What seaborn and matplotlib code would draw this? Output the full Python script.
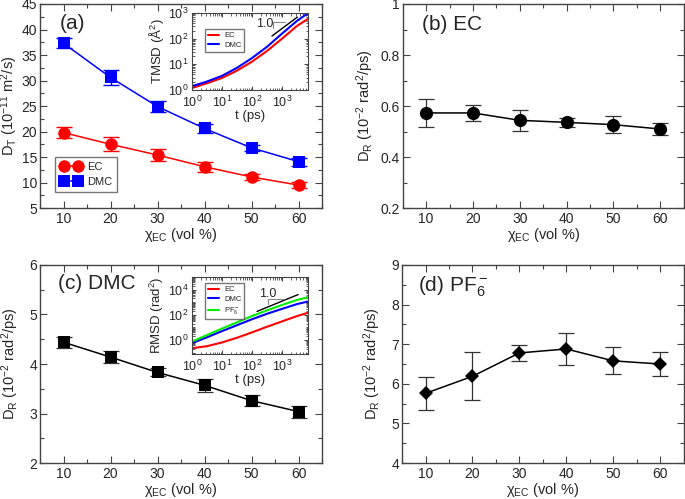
import matplotlib
matplotlib.use("Agg")
import matplotlib.pyplot as plt
import seaborn as sns
from matplotlib.ticker import MultipleLocator, LogLocator, NullFormatter

# ---- data ----
x_ec = [10, 20, 30, 40, 50, 60]

dt_ec = [19.8, 17.5, 15.4, 13.1, 11.1, 9.5]
dt_ec_err = [1.15, 1.4, 1.1, 1.0, 0.65, 0.65]
dt_dmc = [37.3, 30.6, 24.9, 20.6, 16.8, 14.1]
dt_dmc_err = [1.0, 1.4, 1.15, 0.85, 0.65, 0.8]

dr_ec = [0.573, 0.573, 0.544, 0.536, 0.527, 0.510]
dr_ec_err = [0.056, 0.032, 0.041, 0.017, 0.032, 0.022]

dr_dmc = [4.44, 4.14, 3.83, 3.57, 3.26, 3.04]
dr_dmc_err = [0.115, 0.12, 0.08, 0.13, 0.115, 0.12]

dr_pf6 = [5.76, 6.19, 6.78, 6.88, 6.58, 6.50]
dr_pf6_err = [0.42, 0.61, 0.2, 0.41, 0.34, 0.31]

# inset curves (log-log)
t_ps = [1, 3.16, 10, 31.6, 100, 316, 1000, 3162, 7000]
tmsd_ec = [1.17, 1.8, 2.9, 5.6, 12.6, 33, 100, 316, 575]
tmsd_dmc = [1.38, 2.1, 3.5, 7.2, 17.4, 48, 158, 500, 955]
rmsd_ec = [0.22, 0.32, 0.63, 1.5, 4.0, 11.2, 30, 79, 141]
rmsd_dmc = [0.55, 1.6, 5.0, 14.8, 44, 120, 295, 710, 1100]
rmsd_pf6 = [0.74, 2.4, 7.9, 25, 79, 224, 600, 1500, 2400]

# slope-1 guides in the insets
slope_a_t = [460, 3200]
slope_a_y = [126, 690]
slope_c_t = [147, 3400]
slope_c_y = [185, 4000]

sns.set_style("ticks")
plt.rcParams['font.family'] = ['Liberation Sans', 'DejaVu Sans']
plt.rcParams['mathtext.fontset'] = 'custom'
plt.rcParams['mathtext.rm'] = 'Liberation Sans'
plt.rcParams['mathtext.it'] = 'Liberation Sans:italic'
plt.rcParams['mathtext.default'] = 'regular'
plt.rcParams['axes.edgecolor'] = '#444444'
plt.rcParams['axes.linewidth'] = 1.0

fig = plt.figure(figsize=(6.85, 4.99), dpi=100)
ax_a = fig.add_axes([0.0584, 0.583, 0.4117, 0.409])
ax_b = fig.add_axes([0.588, 0.583, 0.410, 0.409])
ax_c = fig.add_axes([0.0584, 0.072, 0.4117, 0.397])
ax_d = fig.add_axes([0.587, 0.072, 0.411, 0.397])
ins_a = fig.add_axes([0.280, 0.820, 0.169, 0.154])
ins_c = fig.add_axes([0.280, 0.291, 0.169, 0.154])

xlab = r'$\chi_{EC}$ (vol %)'
drlab = r'$D_R$ (10$^{-2}$ rad$^2$/ps)'


def style_main(ax, ymin, ymax, major, minor):
    ax.set_xlim(5, 65)
    ax.set_ylim(ymin, ymax)
    ax.xaxis.set_major_locator(MultipleLocator(10))
    ax.xaxis.set_minor_locator(MultipleLocator(5))
    ax.yaxis.set_major_locator(MultipleLocator(major))
    ax.yaxis.set_minor_locator(MultipleLocator(minor))
    ax.tick_params(which='both', direction='in', top=True, right=True,
                   color='#444444', labelsize=10)
    ax.tick_params(axis='x', pad=2.5)
    ax.tick_params(axis='y', pad=2)
    ax.tick_params(which='major', length=5, width=0.8)
    ax.tick_params(which='minor', length=3, width=0.8)
    for s in ax.spines.values():
        s.set_visible(True)
    ax.set_xlabel(xlab, fontsize=10.5, labelpad=0)


def style_inset(ax, ymin, ymax, yticks, ylab):
    ax.set_xscale('log')
    ax.set_yscale('log')
    ax.set_xlim(1, 7000)
    ax.set_ylim(ymin, ymax)
    ax.set_xticks([1, 10, 100, 1000])
    ax.set_yticks(yticks)
    ax.xaxis.set_minor_locator(LogLocator(base=10, subs=range(1, 10), numticks=20))
    ax.yaxis.set_minor_locator(LogLocator(base=10, subs=range(1, 10), numticks=20))
    ax.xaxis.set_minor_formatter(NullFormatter())
    ax.yaxis.set_minor_formatter(NullFormatter())
    ax.tick_params(which='both', direction='in', top=True, right=True,
                   color='#444444', labelsize=9)
    ax.tick_params(axis='x', pad=3.5)
    ax.tick_params(axis='y', pad=2.5)
    ax.tick_params(which='major', length=3, width=0.7)
    ax.tick_params(which='minor', length=1.8, width=0.6)
    for s in ax.spines.values():
        s.set_visible(True)
        s.set_linewidth(0.8)
    ax.set_xlabel('t (ps)', fontsize=9.5, labelpad=0)
    ax.set_ylabel(ylab, fontsize=9.5, labelpad=1)


# ---- (a) translational diffusion ----
ax_a.errorbar(x_ec, dt_ec, yerr=dt_ec_err, fmt='none', ecolor='red',
              elinewidth=1, capsize=6, capthick=1)
ax_a.errorbar(x_ec, dt_dmc, yerr=dt_dmc_err, fmt='none', ecolor='blue',
              elinewidth=1, capsize=6, capthick=1)
sns.lineplot(x=x_ec, y=dt_ec, ax=ax_a, color='red', marker='o', markersize=9,
             markeredgewidth=0, linewidth=1.1, label='EC')
sns.lineplot(x=x_ec, y=dt_dmc, ax=ax_a, color='blue', marker='s', markersize=8.5,
             markeredgewidth=0, linewidth=1.1, label='DMC')
style_main(ax_a, 5, 45, 5, 2.5)
ax_a.set_ylabel(r'$D_T$ (10$^{-11}$ m$^2$/s)', fontsize=10.5, labelpad=1)
ax_a.legend(loc='lower left', bbox_to_anchor=(0.035, 0.05), numpoints=2,
            fontsize=8, frameon=True, fancybox=False, edgecolor='#555555',
            handlelength=1.9, handletextpad=0.5, borderpad=0.45,
            labelspacing=0.45, markerscale=1.0)
ax_a.text(0.07, 0.905, '(a)', transform=ax_a.transAxes, fontsize=15,
          va='center', ha='left')

# inset (a)
sns.lineplot(x=t_ps, y=tmsd_ec, ax=ins_a, color='red', linewidth=1.5, label='EC')
sns.lineplot(x=t_ps, y=tmsd_dmc, ax=ins_a, color='blue', linewidth=1.5, label='DMC')
ins_a.plot(slope_a_t, slope_a_y, color='black', linewidth=1)
ins_a.plot([500, 500, 1260], [250, 455, 455], color='#888888', linewidth=0.8)
ins_a.text(270, 370, '1.0', fontsize=9, ha='center', va='center')
style_inset(ins_a, 1, 1000, [1, 10, 100, 1000], r'TMSD ($\AA^2$)')
ins_a.legend(loc='upper left', bbox_to_anchor=(0.08, 0.84), fontsize=5.5,
             frameon=True, fancybox=False, edgecolor='#555555',
             handlelength=1.5, handletextpad=0.6, borderpad=0.4, labelspacing=0.3)

# ---- (b) EC rotational ----
ax_b.errorbar(x_ec, dr_ec, yerr=dr_ec_err, fmt='none', ecolor='#333333',
              elinewidth=0.9, capsize=6, capthick=0.9)
sns.lineplot(x=x_ec, y=dr_ec, ax=ax_b, color='black', marker='o', markersize=9.5,
             markeredgewidth=0, linewidth=1.1)
style_main(ax_b, 0.2, 1.0, 0.2, 0.1)
ax_b.yaxis.set_major_formatter(plt.FuncFormatter(lambda v, p: '1' if abs(v - 1) < 1e-9 else f'{v:.1f}'))
ax_b.set_ylabel(drlab, fontsize=10.5, labelpad=3)
ax_b.text(0.07, 0.9, '(b) EC', transform=ax_b.transAxes, fontsize=15,
          va='center', ha='left')

# ---- (c) DMC rotational ----
ax_c.errorbar(x_ec, dr_dmc, yerr=dr_dmc_err, fmt='none', ecolor='#333333',
              elinewidth=0.9, capsize=6, capthick=0.9)
sns.lineplot(x=x_ec, y=dr_dmc, ax=ax_c, color='black', marker='s', markersize=8.5,
             markeredgewidth=0, linewidth=1.1)
style_main(ax_c, 2, 6, 1, 0.5)
ax_c.set_ylabel(drlab, fontsize=10.5, labelpad=6)
ax_c.text(0.065, 0.905, '(c) DMC', transform=ax_c.transAxes, fontsize=15,
          va='center', ha='left')

# inset (c)
sns.lineplot(x=t_ps, y=rmsd_ec, ax=ins_c, color='red', linewidth=1.5, label='EC')
sns.lineplot(x=t_ps, y=rmsd_dmc, ax=ins_c, color='blue', linewidth=1.5, label='DMC')
sns.lineplot(x=t_ps, y=rmsd_pf6, ax=ins_c, color='#00ee00', linewidth=1.5,
             label=r'PF$_6^-$')
ins_c.plot(slope_c_t, slope_c_y, color='black', linewidth=1)
ins_c.plot([340, 340, 1170], [690, 1900, 1900], color='#888888', linewidth=0.8)
ins_c.text(340, 4700, '1.0', fontsize=9, ha='center', va='center')
style_inset(ins_c, 0.08, 1e5, [1, 100, 10000], r'RMSD (rad$^2$)')
ins_c.legend(loc='upper left', bbox_to_anchor=(0.08, 0.97), fontsize=5.5,
             frameon=True, fancybox=False, edgecolor='#555555',
             handlelength=1.5, handletextpad=0.6, borderpad=0.4, labelspacing=0.3)

# ---- (d) PF6 rotational ----
ax_d.errorbar(x_ec, dr_pf6, yerr=dr_pf6_err, fmt='none', ecolor='#333333',
              elinewidth=0.9, capsize=6, capthick=0.9)
sns.lineplot(x=x_ec, y=dr_pf6, ax=ax_d, color='black', marker='D', markersize=7,
             markeredgewidth=0, linewidth=1.1)
style_main(ax_d, 4, 9, 1, 0.5)
ax_d.set_ylabel(drlab, fontsize=10.5, labelpad=6)
ax_d.text(0.057, 0.89, r'(d) PF$_6^-$', transform=ax_d.transAxes, fontsize=15,
          va='center', ha='left')

fig.savefig('out.png', dpi=100)
